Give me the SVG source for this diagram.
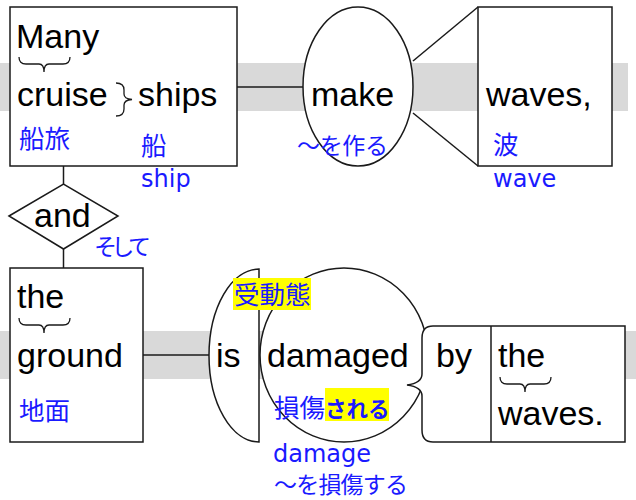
<svg xmlns="http://www.w3.org/2000/svg" width="636" height="500" viewBox="0 0 636 500">
<style>
.band{fill:#d9d9d9}
.shape{fill:#fff;stroke:#1a1a1a;stroke-width:1.5}
.line{fill:none;stroke:#1a1a1a;stroke-width:1.5}
.brace{fill:none;stroke:#1a1a1a;stroke-width:1.3}
.t{font-family:"Liberation Sans",Arial,sans-serif;font-size:34px;fill:#000}
.bl{font-family:"DejaVu Sans","Noto Sans CJK JP",sans-serif;font-size:24px;fill:#1a1aff}
.bj{font-family:"Noto Sans CJK JP",sans-serif;font-size:25.5px;fill:#1a1aff}
.bk{font-family:"Noto Sans CJK JP",sans-serif;font-size:23px;fill:#1a1aff}
.hl{fill:#ffff00}
</style>
<defs>
<path id="hbrace" d="M0,0 Q0,7 7,7 L20,7 Q25,7 25,15 Q25,7 30,7 L44,7 Q51,7 51,0"/>
</defs>
<rect class="band" x="0" y="63" width="628" height="48"/>
<rect class="band" x="0" y="331" width="636" height="48"/>
<g id="connectors">
<line class="line" x1="237" y1="87" x2="304" y2="87"/>
<line class="line" x1="413" y1="61" x2="478" y2="7"/>
<line class="line" x1="413" y1="113" x2="478" y2="166"/>
<line class="line" x1="63.5" y1="166" x2="63.5" y2="184"/>
<line class="line" x1="63.5" y1="249" x2="63.5" y2="268"/>
<line class="line" x1="143" y1="355" x2="210" y2="355"/>
</g>
<g id="node-many-cruise-ships">
<rect class="shape" x="10" y="7" width="227" height="159"/>
<text class="t" x="16" y="48">Many</text>
<use href="#hbrace" class="brace" x="19" y="57"/>
<text class="t" x="17" y="106">cruise</text>
<path class="brace" d="M116,83 Q124,83 124,90 L124,94 Q124,99 132,99.5 Q124,100 124,105 L124,109 Q124,116 116,116"/>
<text class="t" x="138" y="106">ships</text>
<text class="bj" x="19" y="148">船旅</text>
<text class="bj" x="141" y="155">船</text>
<text class="bl" x="141" y="187">ship</text>
</g>
<g id="node-make">
<ellipse class="shape" cx="358" cy="86.5" rx="55" ry="79.5"/>
<text class="t" x="311" y="106">make</text>
<text class="bk" x="297" y="154" textLength="91">～を作る</text>
</g>
<g id="node-waves">
<rect class="shape" x="478" y="7" width="134" height="159"/>
<text class="t" x="486" y="106">waves,</text>
<text class="bj" x="493" y="154">波</text>
<text class="bl" x="493" y="187">wave</text>
</g>
<g id="node-and">
<polygon class="shape" points="9,216 63.5,184 118,216 63.5,249"/>
<text class="t" x="34" y="227">and</text>
<text class="bk" x="94" y="255" font-size="22.5" textLength="57">そして</text>
</g>
<g id="node-the-ground">
<rect class="shape" x="10" y="268" width="133" height="174"/>
<text class="t" x="17" y="308">the</text>
<use href="#hbrace" class="brace" x="19" y="318"/>
<text class="t" x="17" y="367">ground</text>
<text class="bj" x="19" y="420">地面</text>
</g>
<g id="node-is">
<path class="shape" d="M259,269 A50,86.5 0 0 0 259,442 Z"/>
<text class="t" x="216" y="367">is</text>
</g>
<g id="node-damaged">
<ellipse class="shape" cx="344" cy="355" rx="84" ry="87"/>
<text class="t" x="267" y="367">damaged</text>
</g>
<g id="node-by-the-waves">
<path class="shape" d="M433,326 L625,326 L625,442 L433,442 Q422,442 422,430 L422,396 Q422,387 407,385 Q422,383 422,374 L422,338 Q422,326 433,326 Z"/>
<line class="line" x1="491" y1="326" x2="491" y2="442"/>
<text class="t" x="436" y="367">by</text>
<text class="t" x="498" y="367">the</text>
<use href="#hbrace" class="brace" x="500" y="377"/>
<text class="t" x="498" y="425">waves.</text>
</g>
<g id="labels-passive">
<rect class="hl" x="233" y="278" width="78" height="32"/>
<text class="bj" x="234" y="304">受動態</text>
<rect class="hl" x="325" y="388" width="64" height="33"/>
<text class="bj" x="274" y="417">損傷<tspan font-weight="bold" font-size="21.5px">される</tspan></text>
<text class="bl" x="273" y="462">damage</text>
<text class="bk" x="274" y="493" textLength="134">～を損傷する</text>
</g>
</svg>
